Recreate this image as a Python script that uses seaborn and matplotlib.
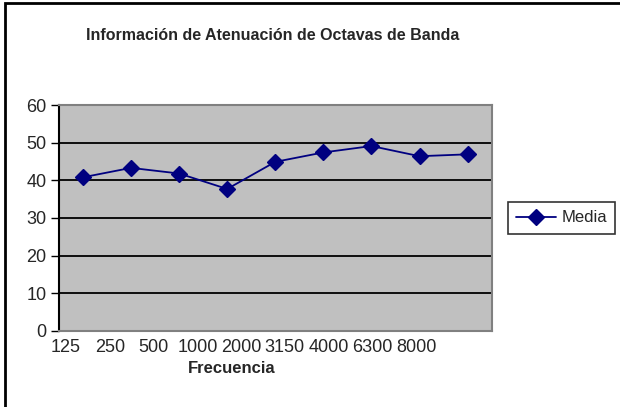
import matplotlib
matplotlib.use('Agg')
import matplotlib.pyplot as plt
from matplotlib.patches import Rectangle
import numpy as np
import pandas as pd
import seaborn as sns

# octave band attenuation
frecuencias = ['125', '250', '500', '1000', '2000', '3150', '4000', '6300', '8000']
media = [40.8, 43.3, 41.8, 37.7, 44.9, 47.4, 49.1, 46.4, 46.9]
y_ticks = [0, 10, 20, 30, 40, 50, 60]

df = pd.DataFrame({'Frecuencia': frecuencias, 'Media': media})

sns.set_style('white')
plt.rcParams['font.family'] = ['Liberation Sans', 'DejaVu Sans']

fig = plt.figure(figsize=(6.2, 4.07), dpi=100)
# outer chart border (only top and left edges show in the original)
fig.patches.append(Rectangle((5 / 620, -0.1), 1.2, 1.1 - 3 / 407, transform=fig.transFigure,
                             fill=False, edgecolor='black', linewidth=2))

ax = fig.add_axes([0.095, 0.187, 0.698, 0.555])
ax.set_facecolor('#C0C0C0')

sns.pointplot(data=df, x='Frecuencia', y='Media', color='#000080', marker='D',
              markersize=8.5, linewidth=1.3, ax=ax, label='Media')

ax.set_xlim(-0.5, len(frecuencias) - 0.5)
ax.set_ylim(0, 60)
ax.set_yticks(y_ticks)
for v in y_ticks[1:-1]:
    ax.axhline(v, color='black', linewidth=1.3, zorder=0)

# tick labels sit a bit compressed to the left in the original
ax.set_xticks(np.arange(len(frecuencias)) * 0.91 - 0.35)
ax.set_xticklabels(frecuencias)
ax.tick_params(axis='x', length=0, pad=6, labelsize=13)
ax.tick_params(axis='y', length=6, width=1, color='black', pad=3, labelsize=13, left=True)

for side in ['top', 'right', 'bottom']:
    ax.spines[side].set_color('#808080')
    ax.spines[side].set_linewidth(1.5)
ax.spines['left'].set_color('black')
ax.spines['left'].set_linewidth(1.5)

ax.set_xlabel('Frecuencia', fontsize=12, fontweight='bold', labelpad=0)
ax.xaxis.set_label_coords(0.40, -0.135)
ax.set_ylabel('')

fig.text(0.44, 0.913, 'Información de Atenuación de Octavas de Banda', ha='center', va='center',
         fontsize=11.5, fontweight='bold')

leg = ax.legend(loc='center left', bbox_to_anchor=(1.03, 0.5), frameon=True, fancybox=False,
                fontsize=12, handlelength=2.4, borderpad=0.5, handletextpad=0.3,
                borderaxespad=0.2)
leg.get_frame().set_edgecolor('black')
leg.get_frame().set_linewidth(1.2)

fig.savefig('out.png', dpi=100)
